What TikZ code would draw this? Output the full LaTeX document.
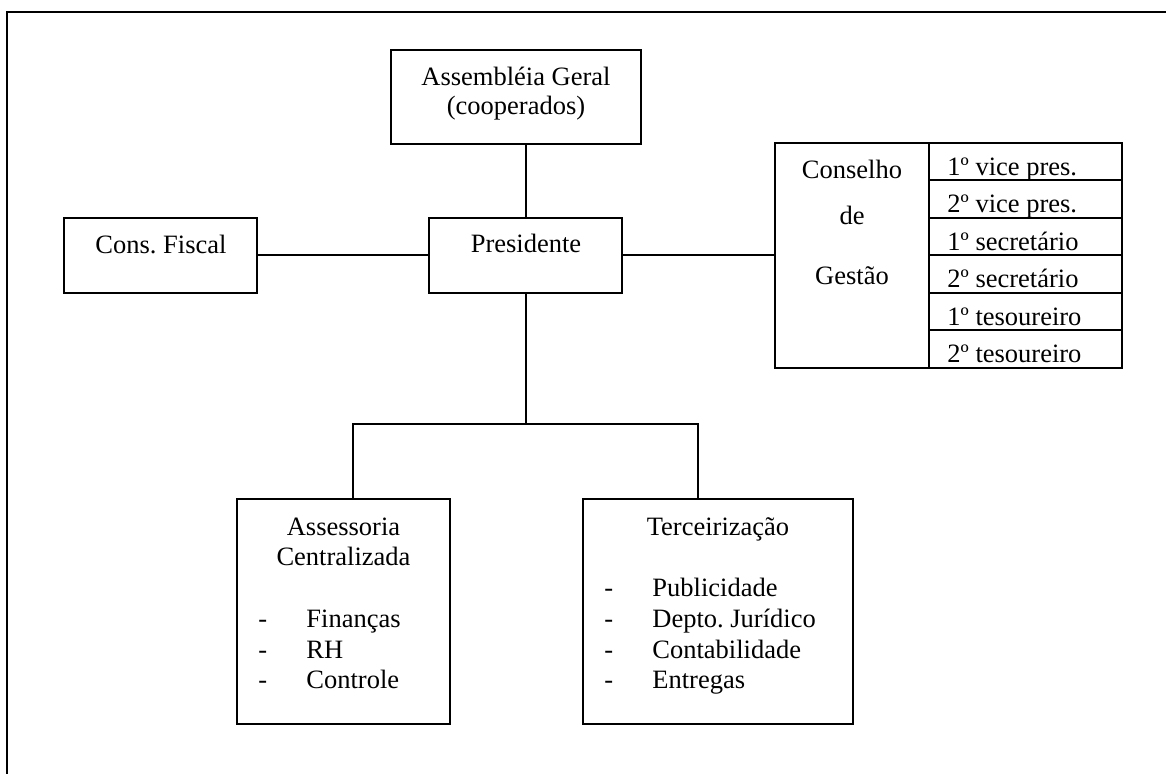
\documentclass[tikz,border=0pt]{standalone}
\usepackage{fontspec}
\setmainfont{Liberation Serif}
\frenchspacing
\begin{document}
\begin{tikzpicture}[
  x=0.5pt, y=-0.5pt,
  box/.style={draw, line width=1pt, inner sep=0pt, outer sep=0pt},
  boxsize/.style 2 args={minimum width=#1*0.5pt, minimum height=#2*0.5pt},
  link/.style={line width=1pt},
  txt/.style={anchor=base, inner sep=0pt, font=\fontsize{13.25}{15.5}\selectfont},
  ltxt/.style={txt, anchor=base west},
]
\useasboundingbox (0,0) rectangle (1166,774);
% page frame (left and top edges)
\draw[line width=1pt] (7,774) -- (7,12.5) -- (1166,12.5);

% boxes
\node[box, boxsize={250}{94}]  (asm)    at (516,97) {};
\node[box, boxsize={193}{75}]  (pres)   at (525.5,255.5) {};
\node[box, boxsize={193}{75}]  (fiscal) at (160.5,255.5) {};
\node[box, boxsize={154}{225}] (cons)   at (852,255.5) {};
\foreach \i in {1,...,6}
  \node[box, boxsize={193}{37.5}] (r\i) at (1025.5,{161.75+37.5*(\i-1)}) {};
\node[box, boxsize={213}{225}] (ass) at (343.5,611.5) {};
\node[box, boxsize={270}{225}] (ter) at (718,611.5) {};

% texts
\node[txt] (tasm1) at (516,86) {Assembléia Geral};
\node[txt] (tasm2) at (516,115) {(cooperados)};
\node[txt] (tpres) at (526,253) {Presidente};
\node[txt] (tfis)  at (161,254) {Cons. Fiscal};
\node[txt] (tcon1) at (852,179) {Conselho};
\node[txt] (tcon2) at (852,225) {de};
\node[txt] (tcon3) at (852,285) {Gestão};

\node[ltxt] (tr1) at (947,175.5) {1º vice pres.};
\node[ltxt] (tr2) at (947,213)   {2º vice pres.};
\node[ltxt] (tr3) at (947,250.5) {1º secretário};
\node[ltxt] (tr4) at (947,288)   {2º secretário};
\node[ltxt] (tr5) at (947,325.5) {1º tesoureiro};
\node[ltxt] (tr6) at (947,363)   {2º tesoureiro};

\node[txt] (tass1) at (343.5,535) {Assessoria};
\node[txt] (tass2) at (343.5,565) {Centralizada};
\foreach \t/\y [count=\k] in {Finanças/627.5, RH/658, Controle/688.5} {
  \node[ltxt] (dash a\k) at (258,\y) {-};
  \node[ltxt] (item a\k) at (306,\y) {\t};
}

\node[txt] (tter) at (718,535) {Terceirização};
\foreach \t/\y [count=\k] in {Publicidade/596.5, Depto. Jurídico/627.5, Contabilidade/658, Entregas/688.5} {
  \node[ltxt] (dash t\k) at (604,\y) {-};
  \node[ltxt] (item t\k) at (652,\y) {\t};
}

% connectors
\draw[link] (pres.north |- asm.south) -- (pres.north);
\draw[link] (fiscal.east) -- (pres.west);
\draw[link] (pres.east) -- (cons.west);
\coordinate (jl) at (353,424);
\coordinate (jr) at (698,424);
\draw[link] (pres.south) -- (pres.south |- jl);
\draw[link] (jl |- ass.north) -- (jl) -- (jr) -- (jr |- ter.north);
\end{tikzpicture}
\end{document}
